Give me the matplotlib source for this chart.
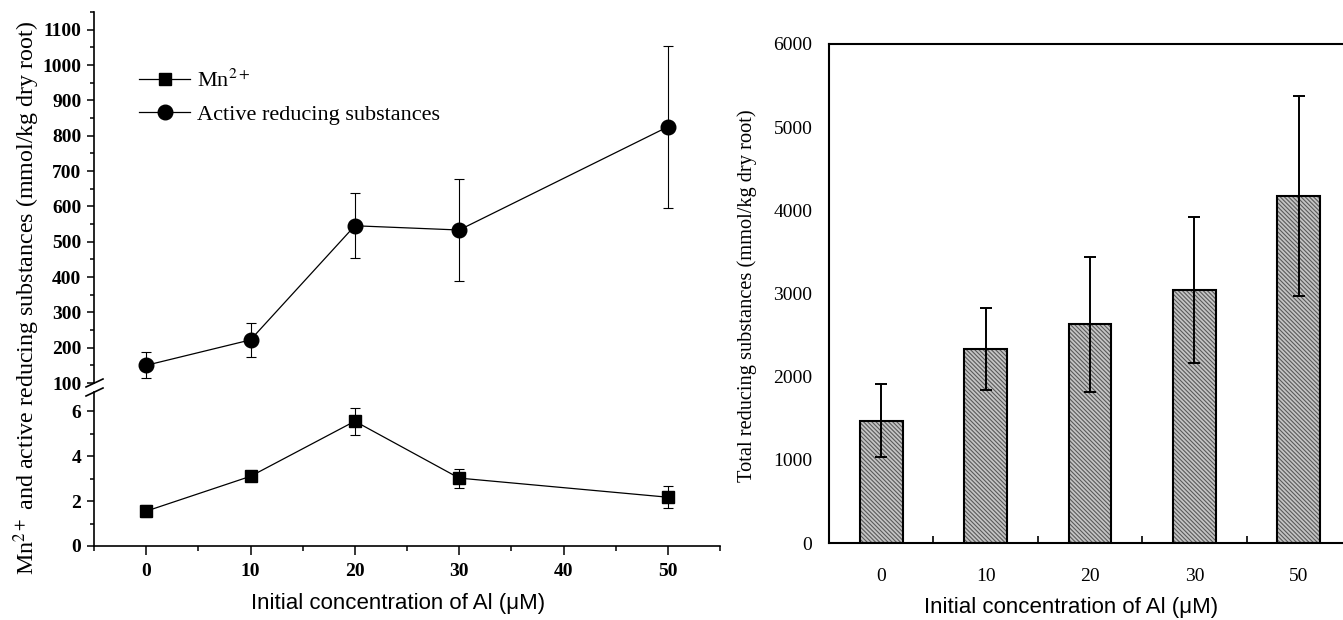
import numpy as np
import matplotlib.pyplot as plt
from matplotlib.lines import Line2D
from matplotlib.ticker import MultipleLocator

plt.rcParams['font.family'] = ['Liberation Serif', 'DejaVu Serif']
plt.rcParams['mathtext.fontset'] = 'stix'
plt.rcParams['hatch.linewidth'] = 0.8
sans_narrow = ['Liberation Sans Narrow', 'Liberation Sans', 'DejaVu Sans']

# Al treatment levels (uM)
al_conc = [0, 10, 20, 30, 50]
al_labels = ['0', '10', '20', '30', '50']
# Mn2+ in root (mmol/kg dry root)
mn = [1.55, 3.1, 5.55, 3.02, 2.17]
mn_err = [0.28, 0.12, 0.6, 0.42, 0.5]
# active reducing substances (mmol/kg dry root)
active = [150, 222, 545, 533, 825]
active_err = [37, 49, 92, 143, 229]
# total reducing substances (mmol/kg dry root)
total = [1470, 2330, 2630, 3040, 4170]
total_err = [440, 490, 810, 880, 1200]

W, H = 1343, 620
fig = plt.figure(figsize=(W / 100, H / 100), dpi=100)

def box(x0, y0, x1, y1):
    # pixel box (top-left origin) -> figure fraction rect
    return [x0 / W, 1 - y1 / H, (x1 - x0) / W, (y1 - y0) / H]

ax_hi = fig.add_axes(box(94, 12, 720, 383))
ax_lo = fig.add_axes(box(94, 392, 720, 546))
ax_bar = fig.add_axes(box(829, 44, 1351, 543))

# ---- left panel: broken y axis ----
ax_hi.errorbar(al_conc, active, yerr=active_err, color='k', lw=0.9, marker='o',
               ms=10.5, elinewidth=0.8, capsize=3.5, capthick=0.8)
ax_lo.errorbar(al_conc, mn, yerr=mn_err, color='k', lw=0.9, marker='s',
               ms=8.5, elinewidth=0.8, capsize=3.5, capthick=0.8)

ax_hi.set_ylim(100, 1150)
ax_lo.set_ylim(0, 6.85)
for a in (ax_hi, ax_lo):
    a.set_xlim(-5, 55)
    a.spines['top'].set_visible(False)
    a.spines['right'].set_visible(False)
    a.spines['left'].set_linewidth(1.2)
    a.tick_params(axis='y', which='major', direction='out', length=5, width=1.1, pad=4,
                  labelsize=14)
    a.tick_params(axis='y', which='minor', direction='out', length=3, width=1.1)

ax_hi.spines['bottom'].set_visible(False)
ax_hi.tick_params(axis='x', which='both', bottom=False, labelbottom=False)
ax_hi.yaxis.set_minor_locator(MultipleLocator(50))
ax_hi.set_yticks(np.arange(100, 1101, 100))
ax_hi.set_yticklabels([str(v) for v in range(100, 1101, 100)], fontweight='bold')

ax_lo.spines['bottom'].set_linewidth(1.2)
ax_lo.set_yticks([0, 2, 4, 6])
ax_lo.set_yticklabels(['0', '2', '4', '6'], fontweight='bold')
ax_lo.yaxis.set_minor_locator(MultipleLocator(1))
ax_lo.set_xticks([0, 10, 20, 30, 40, 50])
ax_lo.set_xticklabels(['0', '10', '20', '30', '40', '50'], fontweight='bold')
ax_lo.xaxis.set_minor_locator(MultipleLocator(5))
ax_lo.tick_params(axis='x', which='major', direction='out', length=6.5, width=1.1,
                  pad=6, labelsize=14)
ax_lo.tick_params(axis='x', which='minor', direction='out', length=3.5, width=1.1)

# break marks on the y axis
for yb in (383, 392):
    fig.add_artist(Line2D([86 / W, 103 / W], [1 - (yb + 4) / H, 1 - (yb - 4) / H],
                          color='k', lw=1.2))

# legend without the error bar ticks
handles = [Line2D([], [], color='k', lw=0.9, marker='s', ms=8.5),
           Line2D([], [], color='k', lw=0.9, marker='o', ms=10.5)]
ax_hi.legend(handles, [r'Mn$^{2+}$', 'Active reducing substances'], loc='upper left',
             bbox_to_anchor=(0.058, 0.868), frameon=False, fontsize=16,
             handlelength=2.3, handletextpad=0.3, labelspacing=0.55, borderaxespad=0)

fig.text(27 / W, 1 - 298 / H, r'Mn$^{2+}$ and active reducing substances (mmol/kg dry root)',
         rotation=90, ha='center', va='center', fontsize=17.3)
fig.text(398 / W, 1 - 604 / H, 'Initial concentration of Al (\u03bcM)',
         ha='center', va='center', fontsize=16, family=sans_narrow)

# ---- right panel: hatched bars ----
pos = np.arange(len(al_conc))
ax_bar.bar(pos, total, width=0.41, facecolor='#c4c4c4', edgecolor='#5a5a5a', lw=0,
           hatch='\\\\\\\\\\\\\\\\')
ax_bar.bar(pos, total, width=0.41, facecolor='none', edgecolor='k', lw=1.5)
ax_bar.errorbar(pos, total, yerr=total_err, fmt='none', ecolor='k', elinewidth=1.4,
                capsize=4, capthick=1.4)
ax_bar.set_xlim(-0.5, 4.5)
ax_bar.set_ylim(0, 6000)
ax_bar.set_yticks(range(0, 6001, 1000))
ax_bar.set_xticks(pos)
ax_bar.set_xticklabels(al_labels)
ax_bar.set_xticks(pos[:-1] + 0.5, minor=True)
ax_bar.tick_params(axis='x', which='major', length=0, pad=18, labelsize=14)
ax_bar.tick_params(axis='x', which='minor', direction='in', length=5, width=1.2)
ax_bar.tick_params(axis='y', length=0, pad=12, labelsize=14)
for s in ('left', 'bottom', 'top'):
    ax_bar.spines[s].set_linewidth(1.5)
ax_bar.spines['right'].set_visible(False)

fig.text(747 / W, 1 - 296 / H, 'Total reducing substances (mmol/kg dry root)',
         rotation=90, ha='center', va='center', fontsize=14.7)
fig.text(1071 / W, 1 - 608 / H, 'Initial concentration of Al (\u03bcM)',
         ha='center', va='center', fontsize=16, family=sans_narrow)

fig.savefig('out.png', dpi=100)
